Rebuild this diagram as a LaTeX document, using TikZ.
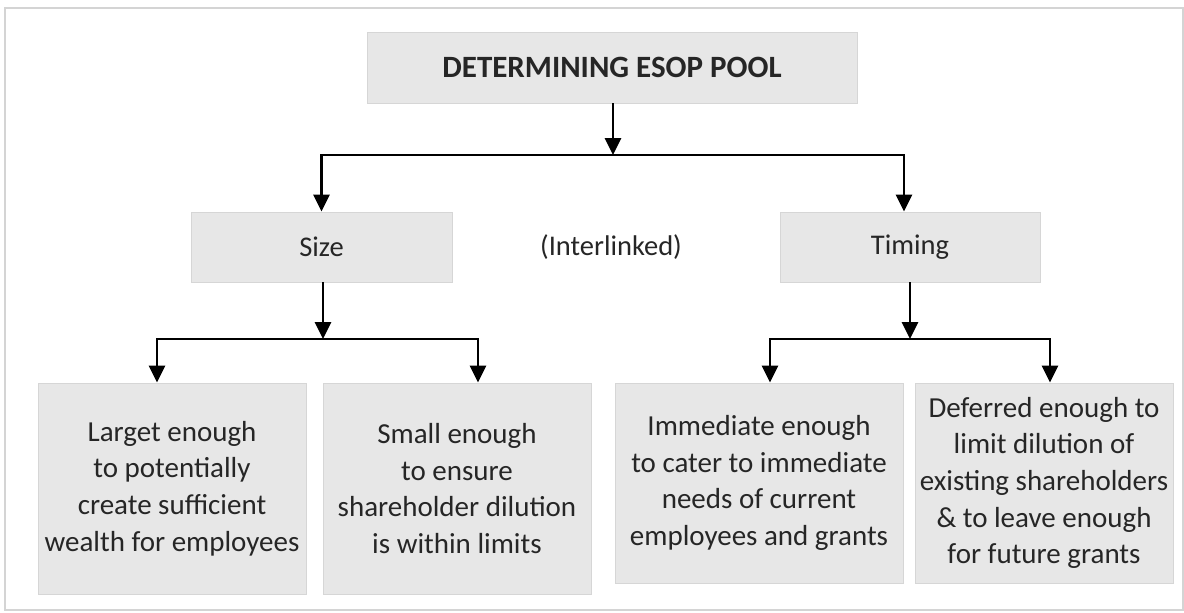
\documentclass[tikz,border=0pt]{standalone}
\usepackage{fontspec}
\setmainfont{Carlito}
\usetikzlibrary{arrows.meta}
\definecolor{boxfill}{RGB}{231,231,231}
\definecolor{boxedge}{RGB}{214,214,214}
\definecolor{txt}{RGB}{38,38,38}
\definecolor{frame}{RGB}{212,212,212}
\tikzset{
  box/.style={rectangle, fill=boxfill, draw=boxedge, line width=0.8pt, inner sep=0pt, align=center, text=txt},
  bodytext/.style={font=\fontsize{29}{36.7}\selectfont},
  arr/.style={line width=2.8pt, draw=black, -{Triangle[width=16pt,length=17pt]}},
}
\begin{document}
\begin{tikzpicture}[x=1pt,y=-1pt]
\useasboundingbox (0,0) rectangle (1184,613);
\draw[frame, line width=1.2pt] (5,8) rectangle (1183,610);

\node[box, minimum width=490pt, minimum height=71pt, font=\fontsize{31}{36}\selectfont\bfseries] (title) at (612,67.5) {DETERMINING ESOP POOL};
\node[box, minimum width=261pt, minimum height=70pt, font=\fontsize{28.5}{34}\selectfont] (size) at (321.5,247) {Size};
\node[box, minimum width=260pt, minimum height=70pt, font=\fontsize{28.5}{34}\selectfont] (timing) at (910,247) {Timing};
\node[text=txt, font=\fontsize{28.5}{34}\selectfont, inner sep=0pt] (inter) at (611,247) {(Interlinked)};

\node[box, bodytext, minimum width=268pt, minimum height=211pt] (b1) at (172,488.5) {Larget enough\\to potentially\\create sufficient\\wealth for employees};
\node[box, bodytext, minimum width=268pt, minimum height=211pt] (b2) at (457,488.5) {Small enough\\to ensure\\shareholder dilution\\is within limits};
\node[box, bodytext, minimum width=288pt, minimum height=200pt] (b3) at (759,483) {Immediate enough\\to cater to immediate\\needs of current\\employees and grants};
\node[box, bodytext, minimum width=258pt, minimum height=200pt] (b4) at (1044,483) {Deferred enough to\\limit dilution of\\existing shareholders\\\& to leave enough\\for future grants};

\coordinate (j0) at (613,155);
\coordinate (j1) at (323,339);
\coordinate (j2) at (910,339);

\draw[arr] ([xshift=1pt]title.south) -- (j0);
\draw[arr] (j0) -| (size.north);
\draw[arr] (j0) -| ([xshift=-6pt]timing.north);

\draw[arr] (size.south -| j1) -- (j1);
\draw[arr] (j1) -| ([xshift=-15pt]b1.north);
\draw[arr] (j1) -| ([xshift=21pt]b2.north);

\draw[arr] (timing.south) -- (j2);
\draw[arr] (j2) -| ([xshift=11pt]b3.north);
\draw[arr] (j2) -| ([xshift=6pt]b4.north);
\end{tikzpicture}
\end{document}
